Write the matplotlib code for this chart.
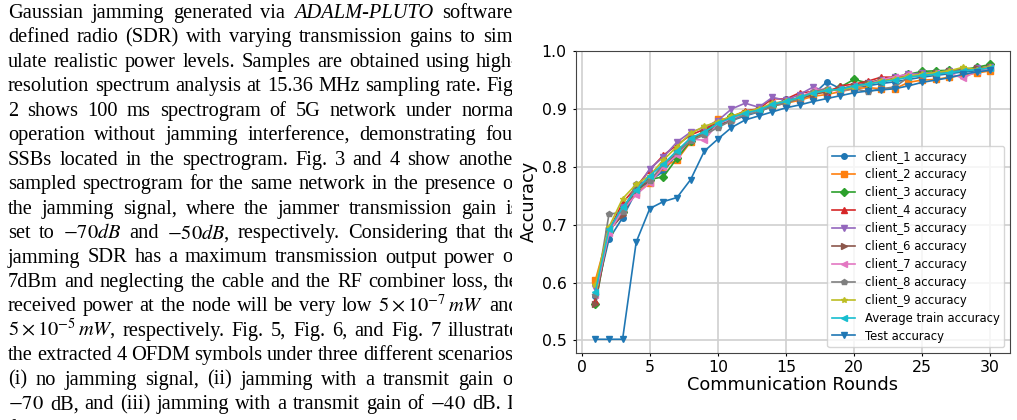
import numpy as np
import matplotlib
matplotlib.use("Agg")
import matplotlib.pyplot as plt
from matplotlib.transforms import IdentityTransform, Bbox

plt.rcParams['mathtext.fontset'] = 'stix'

# paper text on the left (justified column, cut at the right edge)
lines = [
    "Gaussian jamming generated via _ADALM-PLUTO_ software-",
    "defined radio (SDR) with varying transmission gains to sim-",
    "ulate realistic power levels. Samples are obtained using high-",
    "resolution spectrum analysis at 15.36 MHz sampling rate. Fig.",
    "2 shows 100 ms spectrogram of 5G network under normal",
    "operation without jamming interference, demonstrating four",
    "SSBs located in the spectrogram. Fig. 3 and 4 show another",
    "sampled spectrogram for the same network in the presence of",
    "the jamming signal, where the jammer transmission gain is",
    "set to $-70dB$ and $-50dB$, respectively. Considering that the",
    "jamming SDR has a maximum transmission output power of",
    "7dBm and neglecting the cable and the RF combiner loss, the",
    r"received power at the node will be very low $5\times10^{-7}\,mW$ and",
    r"$5\times10^{-5}\,mW$, respectively. Fig. 5, Fig. 6, and Fig. 7 illustrate",
    "the extracted 4 OFDM symbols under three different scenarios:",
    "(i) no jamming signal, (ii) jamming with a transmit gain of",
    "$-70$ dB, and (iii) jamming with a transmit gain of $-40$ dB. It",
    "further highlights that higher jamming power leads to greater",
]

# accuracy per communication round
rounds = np.arange(1, 31)
client_1 = [0.576, 0.675, 0.712, 0.758, 0.776, 0.792, 0.822, 0.846, 0.858, 0.872, 0.880, 0.888, 0.895, 0.905, 0.917,
            0.918, 0.925, 0.947, 0.935, 0.937, 0.940, 0.944, 0.947, 0.951, 0.955, 0.958, 0.961, 0.964, 0.966, 0.970]
client_2 = [0.604, 0.690, 0.725, 0.755, 0.772, 0.800, 0.812, 0.843, 0.860, 0.883, 0.882, 0.893, 0.897, 0.905, 0.910,
            0.915, 0.922, 0.925, 0.930, 0.935, 0.937, 0.935, 0.935, 0.946, 0.950, 0.951, 0.955, 0.958, 0.962, 0.966]
client_3 = [0.563, 0.688, 0.722, 0.760, 0.778, 0.783, 0.815, 0.845, 0.862, 0.875, 0.888, 0.893, 0.897, 0.905, 0.912,
            0.920, 0.927, 0.930, 0.938, 0.951, 0.945, 0.950, 0.955, 0.960, 0.965, 0.966, 0.967, 0.968, 0.972, 0.977]
client_4 = [0.569, 0.690, 0.738, 0.765, 0.795, 0.820, 0.838, 0.855, 0.865, 0.878, 0.886, 0.897, 0.900, 0.918, 0.917,
            0.928, 0.930, 0.928, 0.940, 0.943, 0.948, 0.955, 0.955, 0.958, 0.960, 0.962, 0.965, 0.968, 0.970, 0.973]
client_5 = [0.590, 0.685, 0.730, 0.760, 0.797, 0.817, 0.843, 0.860, 0.868, 0.880, 0.900, 0.910, 0.903, 0.920, 0.915,
            0.925, 0.938, 0.930, 0.935, 0.940, 0.945, 0.950, 0.955, 0.960, 0.962, 0.963, 0.966, 0.967, 0.970, 0.972]
client_6 = [0.563, 0.690, 0.716, 0.762, 0.776, 0.800, 0.825, 0.850, 0.858, 0.872, 0.880, 0.892, 0.898, 0.908, 0.912,
            0.918, 0.925, 0.930, 0.935, 0.940, 0.945, 0.950, 0.953, 0.957, 0.960, 0.962, 0.965, 0.968, 0.970, 0.972]
client_7 = [0.578, 0.686, 0.725, 0.752, 0.772, 0.800, 0.820, 0.848, 0.846, 0.875, 0.883, 0.890, 0.897, 0.910, 0.912,
            0.920, 0.932, 0.935, 0.930, 0.937, 0.943, 0.950, 0.956, 0.960, 0.958, 0.962, 0.962, 0.953, 0.965, 0.970]
client_8 = [0.579, 0.718, 0.722, 0.770, 0.776, 0.805, 0.825, 0.845, 0.855, 0.868, 0.880, 0.890, 0.895, 0.905, 0.910,
            0.918, 0.930, 0.935, 0.932, 0.935, 0.930, 0.935, 0.938, 0.955, 0.958, 0.960, 0.965, 0.967, 0.968, 0.972]
client_9 = [0.596, 0.696, 0.745, 0.770, 0.785, 0.812, 0.835, 0.858, 0.870, 0.878, 0.888, 0.895, 0.900, 0.910, 0.913,
            0.920, 0.928, 0.932, 0.933, 0.938, 0.943, 0.948, 0.952, 0.957, 0.960, 0.963, 0.966, 0.972, 0.968, 0.973]
avg_train = [0.584, 0.692, 0.730, 0.760, 0.785, 0.805, 0.828, 0.850, 0.860, 0.875, 0.885, 0.893, 0.898, 0.908, 0.913,
             0.920, 0.928, 0.932, 0.934, 0.940, 0.943, 0.947, 0.950, 0.955, 0.958, 0.960, 0.963, 0.966, 0.968, 0.971]
test_acc = [0.502, 0.502, 0.502, 0.670, 0.728, 0.740, 0.747, 0.778, 0.827, 0.848, 0.868, 0.881, 0.888, 0.895, 0.902,
            0.907, 0.913, 0.918, 0.923, 0.928, 0.931, 0.933, 0.935, 0.940, 0.946, 0.950, 0.954, 0.960, 0.964, 0.967]

series = [client_1, client_2, client_3, client_4, client_5, client_6, client_7, client_8, client_9, avg_train, test_acc]
labels = ["client_%d accuracy" % (i + 1) for i in range(9)] + ["Average train accuracy", "Test accuracy"]
colors = ['tab:blue', 'tab:orange', 'tab:green', 'tab:red', 'tab:purple', 'tab:brown', 'tab:pink',
          'tab:gray', 'tab:olive', 'tab:cyan', 'tab:blue']
markers = ['o', 's', 'D', '^', 'v', '>', '<', 'p', '*', '<', 'v']

W, H = 1017, 420
fig = plt.figure(figsize=(W / 100, H / 100), dpi=100)
renderer = fig.canvas.get_renderer()
ident = IdentityTransform()
clip = Bbox.from_extents(0, 0, 512, H)

# justified text column
x0, x1 = 8, 519
fs = 14.7
for i, line in enumerate(lines):
    yb = H - (13 + i * 24.45 + 5)
    words = line.split(" ")
    items = []
    for w in words:
        style = 'normal'
        if w.startswith("_") and w.endswith("_"):
            w = w[1:-1]
            style = 'italic'
        t = fig.text(0, yb, w, fontsize=fs, family='Liberation Serif', style=style,
                     va='baseline', ha='left', transform=ident)
        t.set_clip_box(clip)
        t.set_clip_on(True)
        items.append((t, t.get_window_extent(renderer).width))
    total = sum(wd for _, wd in items)
    gap = (x1 - x0 - total) / max(len(items) - 1, 1)
    x = x0
    for t, wd in items:
        t.set_x(x)
        x += wd + gap

# accuracy chart
ax = fig.add_axes([0.566, 0.1595, 0.427, 0.7198])
for vals, lab, c, m in zip(series, labels, colors, markers):
    ax.plot(rounds, vals, color=c, marker=m, markersize=4, linewidth=1.2, label=lab)

ax.set_xlabel("Communication Rounds", fontsize=12.8, labelpad=1)
ax.set_ylabel("Accuracy", fontsize=12.8, labelpad=3)
ax.tick_params(labelsize=11.3, length=2.5)
ax.tick_params(axis='x', pad=2.5)
ax.tick_params(axis='y', pad=4)
ax.set_xticks([0, 5, 10, 15, 20, 25, 30])
ax.set_yticks([0.5, 0.6, 0.7, 0.8, 0.9, 1.0])
ax.grid(True, color='#d0d0d0', linewidth=1.2)
for s in ax.spines.values():
    s.set_color('#444444')
ax.legend(loc='lower right', fontsize=8.4, labelspacing=0.42)

fig.savefig("out.png", dpi=100)
